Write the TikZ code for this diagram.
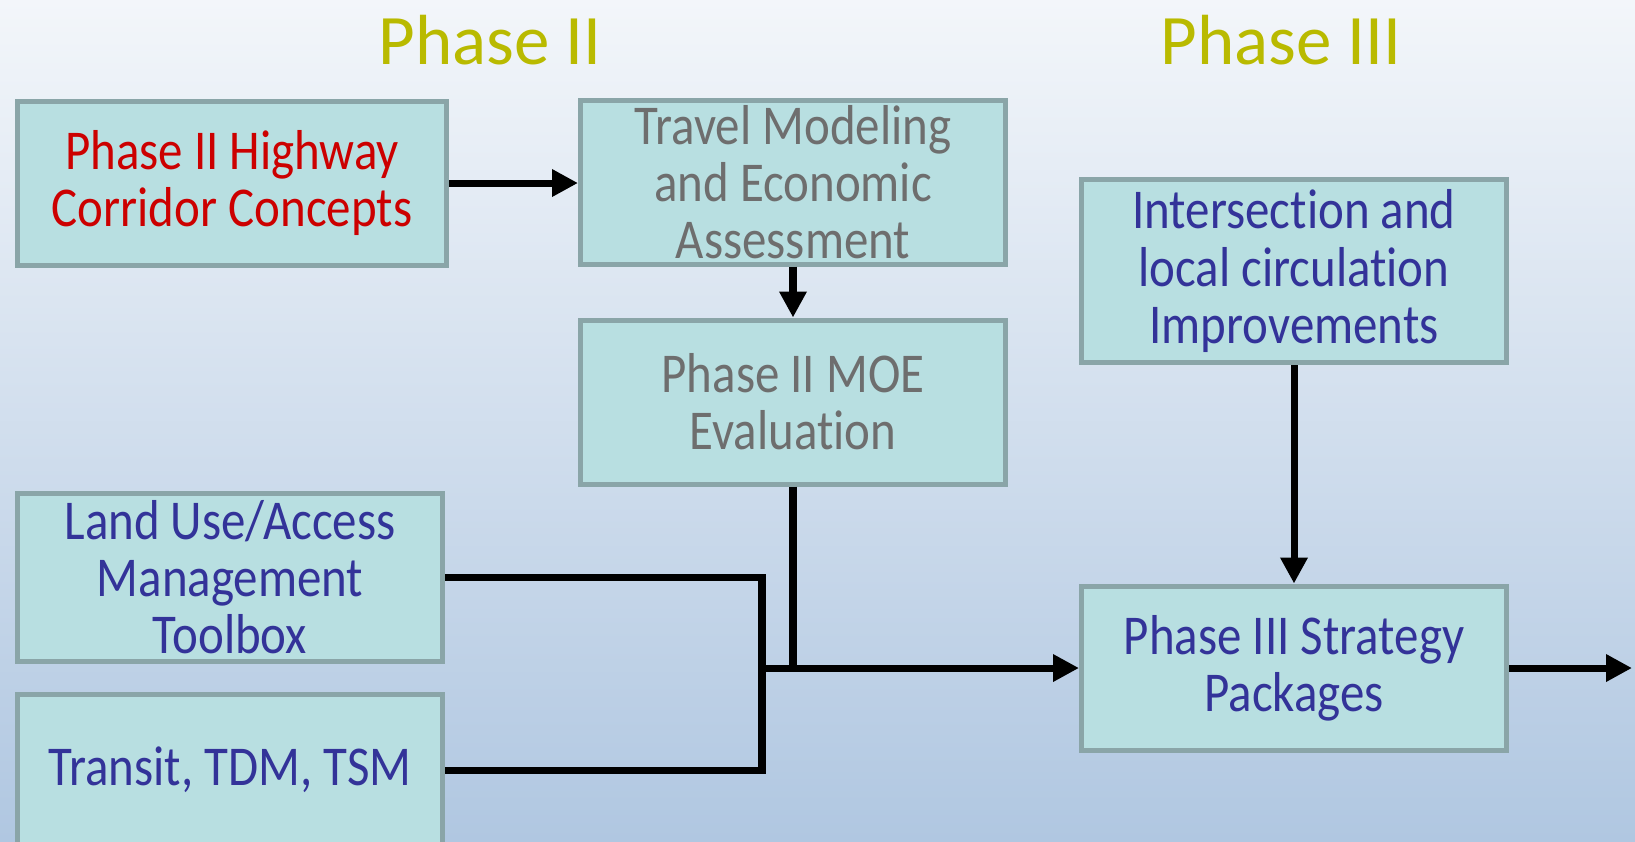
\documentclass[tikz,border=0pt]{standalone}
\usepackage{fontspec}
\setmainfont{Carlito}[FakeStretch=0.87, Ligatures=NoCommon]
\newfontfamily\titlefont{Carlito}
\usetikzlibrary{arrows.meta}
\definecolor{bgtop}{HTML}{F3F6FA}
\definecolor{bgbot}{HTML}{B0C7E1}
\definecolor{boxfill}{HTML}{B8DFE1}
\definecolor{boxline}{HTML}{8AA5A8}
\definecolor{phasecol}{HTML}{B9BA00}
\definecolor{redtxt}{HTML}{CC0000}
\definecolor{graytxt}{HTML}{6E6E6E}
\definecolor{bluetxt}{HTML}{333399}
\begin{document}
\begin{tikzpicture}[x={0.1mm}, y={-0.1mm},
    box/.style={draw=boxline, line width=0.5mm, fill=boxfill, align=center,
        minimum width=42.5mm, minimum height=16.4mm, inner sep=0pt,
        font=\fontsize{16}{16.3}\selectfont},
    phase/.style={text=phasecol, font=\titlefont\fontsize{20.2}{22}\selectfont},
    link/.style={line width=2pt},
    arr/.style={link, -{Triangle[length=2.6mm, width=2.6mm]}}]
    \shade[top color=bgtop, bottom color=bgbot] (0,0) rectangle (1635,841);
    \useasboundingbox (0,0) rectangle (1635,841);
    % phase titles
    \node[phase] (ph2) at (490,40) {Phase II};
    \node[phase] (ph3) at (1281,40) {Phase III};
    % phase II boxes
    \node[box, minimum width=42.9mm, text=redtxt] (hwy) at (232,183) {Phase II Highway\\Corridor Concepts};
    \node[box, text=graytxt] (travel) at (793,182) {Travel Modeling\\and Economic\\Assessment};
    \node[box, text=graytxt] (moe) at (793,402) {Phase II MOE\\Evaluation};
    \node[box, minimum height=16.8mm, text=bluetxt] (landuse) at (230,577) {Land Use/Access\\Management\\Toolbox};
    \node[box, minimum height=15.2mm, text=bluetxt] (transit) at (230,770) {Transit, TDM, TSM};
    % phase III boxes
    \node[box, minimum height=18.3mm, text=bluetxt] (inter) at (1294,271) {Intersection and\\local circulation\\Improvements};
    \node[box, text=bluetxt] (strategy) at (1294,668) {Phase III Strategy\\Packages};
    \coordinate (jn) at (762,668);
    \coordinate (out) at (1632,668);
    % connectors
    \draw[arr] (hwy.east) -- (hwy.east -| travel.west);
    \draw[arr] (travel) -- (moe);
    \draw[link] (landuse.east) -| (jn) |- (transit.east);
    \draw[link] (moe.south) -- (moe.south |- jn);
    \draw[arr] (jn) -- (strategy.west);
    \draw[arr] (inter) -- (strategy);
    \draw[arr] (strategy.east) -- (out);
\end{tikzpicture}
\end{document}
